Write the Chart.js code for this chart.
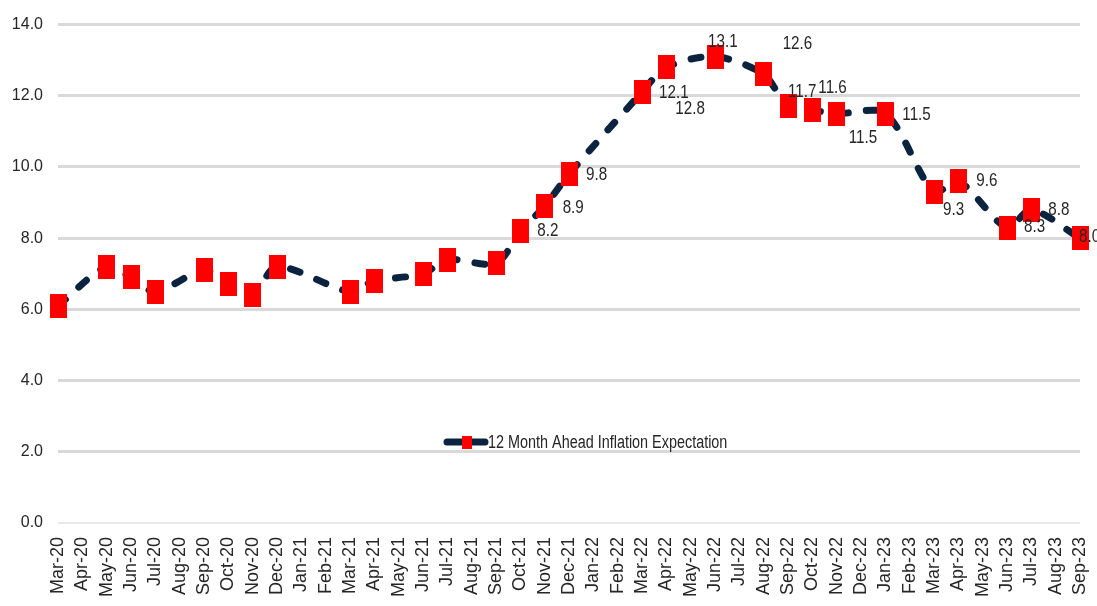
<!DOCTYPE html>
<html>
<head>
<meta charset="utf-8">
<script src="https://cdn.jsdelivr.net/npm/chart.js@4.4.0/dist/chart.umd.min.js"></script>
<style>
  html, body { margin: 0; padding: 0; background: #fff; }
  #wrap { width: 1097px; height: 606px; position: relative; }
</style>
</head>
<body>
<div id="wrap"><canvas id="grafico"></canvas></div>
<script>
// dados
const meses = ['Mar-20','Apr-20','May-20','Jun-20','Jul-20','Aug-20','Sep-20','Oct-20','Nov-20','Dec-20',
  'Jan-21','Feb-21','Mar-21','Apr-21','May-21','Jun-21','Jul-21','Aug-21','Sep-21','Oct-21','Nov-21','Dec-21',
  'Jan-22','Feb-22','Mar-22','Apr-22','May-22','Jun-22','Jul-22','Aug-22','Sep-22','Oct-22','Nov-22','Dec-22',
  'Jan-23','Feb-23','Mar-23','Apr-23','May-23','Jun-23','Jul-23','Aug-23','Sep-23'];

const expectativa = [6.1, null, 7.2, 6.9, 6.5, null, 7.1, 6.7, 6.4, 7.2,
  null, null, 6.5, 6.8, null, 7.0, 7.4, null, 7.3, 8.2, 8.9, 9.8,
  null, null, 12.1, 12.8, null, 13.1, null, 12.6, 11.7, 11.6, 11.5, null,
  11.5, null, 9.3, 9.6, null, 8.3, 8.8, null, 8.0];

// quais pontos recebem rótulo (a partir de Oct-21)
const comRotulo = meses.map((m, i) => i >= 19 && expectativa[i] !== null);

const yTicks = [0, 2, 4, 6, 8, 10, 12, 14];

const FONTE = '"Liberation Sans", Arial, sans-serif';
const corTexto = '#262626';
const corLinha = '#0c2340';
const estreito = 0.8; // texto "narrow" como no original

// marcador retangular vermelho
const marcador = document.createElement('canvas');
marcador.width = 17;
marcador.height = 24;
const mctx = marcador.getContext('2d');
mctx.fillStyle = '#ff0000';
mctx.fillRect(0, 0, 17, 24);

// deslocamento dos rótulos (dx até a borda esquerda, dy até o centro)
const desloc = {
  19: [17, 0], 20: [18, 2], 21: [17, 1], 24: [17, 1], 25: [9, 41], 27: [-7, -15],
  29: [19, -31], 30: [0, -15], 31: [6, -22], 32: [12, 24], 34: [17, 1],
  36: [9, 18], 37: [18, 0], 39: [17, -1], 40: [17, 0], 42: [-1, -1]
};

function textoEstreito(ctx, txt, x, y) {
  ctx.save();
  ctx.translate(x, y);
  ctx.scale(estreito, 1);
  ctx.fillText(txt, 0, 0);
  ctx.restore();
}

const rotulos = {
  id: 'rotulos',
  afterDatasetsDraw(chart) {
    const ctx = chart.ctx;
    const meta = chart.getDatasetMeta(0);
    ctx.save();
    ctx.font = '19px ' + FONTE;
    ctx.fillStyle = corTexto;
    ctx.textAlign = 'left';
    ctx.textBaseline = 'middle';
    meta.data.forEach((pt, i) => {
      if (!comRotulo[i]) return;
      const d = desloc[i] || [17, 0];
      textoEstreito(ctx, expectativa[i].toFixed(1), pt.x + d[0], pt.y + d[1]);
    });
    ctx.restore();
  }
};

// legenda dentro da área do gráfico
const legenda = {
  id: 'legenda',
  afterDraw(chart) {
    const ctx = chart.ctx;
    const x0 = 447, y0 = 442;
    ctx.save();
    ctx.strokeStyle = corLinha;
    ctx.lineWidth = 7;
    ctx.lineCap = 'round';
    ctx.beginPath();
    ctx.moveTo(x0, y0);
    ctx.lineTo(x0 + 38, y0);
    ctx.stroke();
    ctx.fillStyle = '#ff0000';
    ctx.fillRect(x0 + 15, y0 - 6, 10, 13);
    ctx.font = '18px ' + FONTE;
    ctx.fillStyle = corTexto;
    ctx.textBaseline = 'middle';
    textoEstreito(ctx, '12 Month Ahead Inflation Expectation', x0 + 41, y0 + 1);
    ctx.restore();
  }
};

new Chart(document.getElementById('grafico'), {
  type: 'line',
  data: {
    labels: meses,
    datasets: [{
      label: '12 Month Ahead Inflation Expectation',
      data: expectativa,
      spanGaps: true,
      borderColor: corLinha,
      borderWidth: 7,
      borderDash: [10, 18],
      borderCapStyle: 'round',
      tension: 0.3,
      pointStyle: marcador,
      clip: false
    }]
  },
  options: {
    responsive: true,
    maintainAspectRatio: false,
    animation: false,
    layout: { padding: { left: 0, right: 17, top: 19, bottom: 0 } },
    plugins: {
      legend: { display: false },
      tooltip: { enabled: false }
    },
    scales: {
      x: {
        offset: false,
        grid: { display: false, drawTicks: false },
        border: { display: false },
        ticks: {
          minRotation: 90,
          maxRotation: 90,
          autoSkip: false,
          padding: 14,
          color: corTexto,
          font: { family: FONTE, size: 18 }
        },
        afterFit(scale) {
          scale.height = 83;
          scale.paddingLeft = 0;
          scale.paddingRight = 0;
        }
      },
      y: {
        min: 0,
        max: 14,
        afterBuildTicks(scale) { scale.ticks = yTicks.map(v => ({ value: v })); },
        grid: {
          drawTicks: false,
          color: ctx => ctx.tick && ctx.tick.value === 0 ? '#e8e8e8' : '#d9d9d9',
          lineWidth: ctx => ctx.tick && ctx.tick.value === 0 ? 2 : 3
        },
        border: { display: false },
        ticks: {
          padding: 15,
          color: corTexto,
          font: { family: FONTE, size: 16 },
          callback: v => Number(v).toFixed(1)
        },
        afterFit(scale) { scale.width = 58; }
      }
    }
  },
  plugins: [rotulos, legenda]
});
</script>
</body>
</html>
